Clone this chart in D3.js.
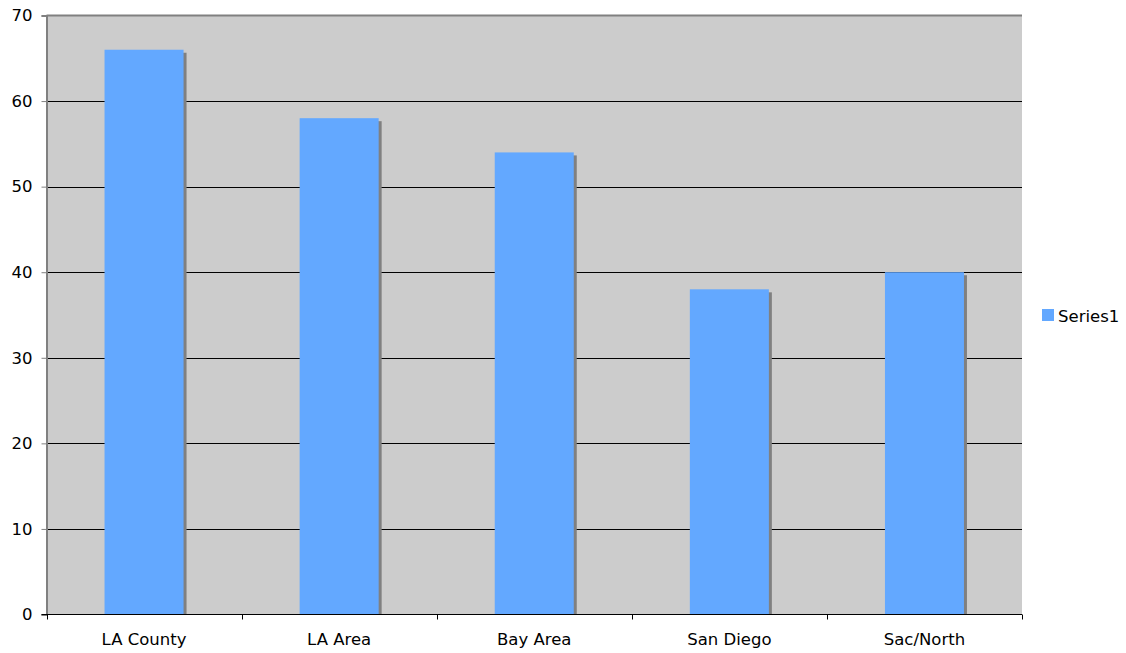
<!DOCTYPE html>
<html>
<head>
<meta charset="utf-8">
<script src="https://cdn.jsdelivr.net/npm/d3@7"></script>
<style>
  html, body { margin: 0; padding: 0; background: #fff; }
  svg text { font-family: "DejaVu Sans", Verdana, sans-serif; fill: #000; }
</style>
</head>
<body>
<svg id="chart" width="1126" height="653"></svg>
<script>
// Regional counts, one series
const categories = ["LA County", "LA Area", "Bay Area", "San Diego", "Sac/North"];
const values = [66, 58, 54, 38, 40];
const yTicks = [0, 10, 20, 30, 40, 50, 60, 70];
const seriesName = "Series1";

const svg = d3.select("#chart");
const plot = { left: 46.5, right: 1022, top: 15.5, bottom: 614.5 };
const fontSize = "16.5px";

const x = d3.scaleBand().domain(categories).range([plot.left, plot.right]).paddingInner(0).paddingOuter(0);
const y = d3.scaleLinear().domain([0, 70]).range([plot.bottom, plot.top]);

// Plot background
svg.append("rect")
  .attr("x", plot.left).attr("y", plot.top)
  .attr("width", plot.right - plot.left).attr("height", plot.bottom - plot.top)
  .attr("fill", "#cccccc");

// Horizontal gridlines
svg.append("g").selectAll("line")
  .data(yTicks.filter(d => d > 0 && d < 70))
  .join("line")
  .attr("x1", plot.left).attr("x2", plot.right)
  .attr("y1", d => Math.round(y(d)) + 0.5).attr("y2", d => Math.round(y(d)) + 0.5)
  .attr("stroke", "#000").attr("stroke-width", 1);

// Top border
svg.append("line")
  .attr("x1", plot.left).attr("x2", plot.right)
  .attr("y1", plot.top).attr("y2", plot.top)
  .attr("stroke", "#808080").attr("stroke-width", 2);

// Bars with drop shadows
const barW = x.bandwidth() * 0.405;
const bars = svg.append("g");
bars.selectAll("rect.shadow")
  .data(values)
  .join("rect")
  .attr("class", "shadow")
  .attr("x", (d, i) => x(categories[i]) + (x.bandwidth() - barW) / 2 + 3)
  .attr("y", d => y(d) + 3)
  .attr("width", barW)
  .attr("height", d => plot.bottom - y(d) - 3)
  .attr("fill", "#808080");
bars.selectAll("rect.bar")
  .data(values)
  .join("rect")
  .attr("class", "bar")
  .attr("x", (d, i) => x(categories[i]) + (x.bandwidth() - barW) / 2)
  .attr("y", d => y(d))
  .attr("width", barW)
  .attr("height", d => plot.bottom - y(d))
  .attr("fill", "#63a8ff");

// Y axis
const yAxis = d3.axisLeft(y).tickValues(yTicks).tickSize(5).tickPadding(9);
const gy = svg.append("g").attr("transform", `translate(${plot.left},0)`).call(yAxis);
gy.select(".domain").attr("stroke", "#808080").attr("stroke-width", 2);
gy.selectAll(".tick line").attr("stroke", "#808080");
gy.selectAll(".tick text").style("font-size", fontSize).attr("fill", "#000");

// X axis with ticks at category boundaries
const gx = svg.append("g").attr("transform", `translate(0,${plot.bottom})`);
gx.append("line")
  .attr("x1", plot.left - 5).attr("x2", plot.right)
  .attr("stroke", "#000").attr("stroke-width", 1);
const bounds = categories.map(c => x(c)).concat([plot.right]);
gx.selectAll("line.tk")
  .data(bounds)
  .join("line")
  .attr("class", "tk")
  .attr("x1", d => Math.round(d) + 0.5).attr("x2", d => Math.round(d) + 0.5)
  .attr("y1", 0).attr("y2", 5)
  .attr("stroke", "#000");
gx.selectAll("text")
  .data(categories)
  .join("text")
  .attr("x", d => x(d) + x.bandwidth() / 2)
  .attr("y", 30)
  .attr("text-anchor", "middle")
  .style("font-size", fontSize)
  .text(d => d);

// Legend
const lg = svg.append("g").attr("transform", "translate(1042,309)");
lg.append("rect").attr("width", 12).attr("height", 12).attr("fill", "#63a8ff");
lg.append("text").attr("x", 16).attr("y", 12.5).style("font-size", fontSize).text(seriesName);
</script>
</body>
</html>
